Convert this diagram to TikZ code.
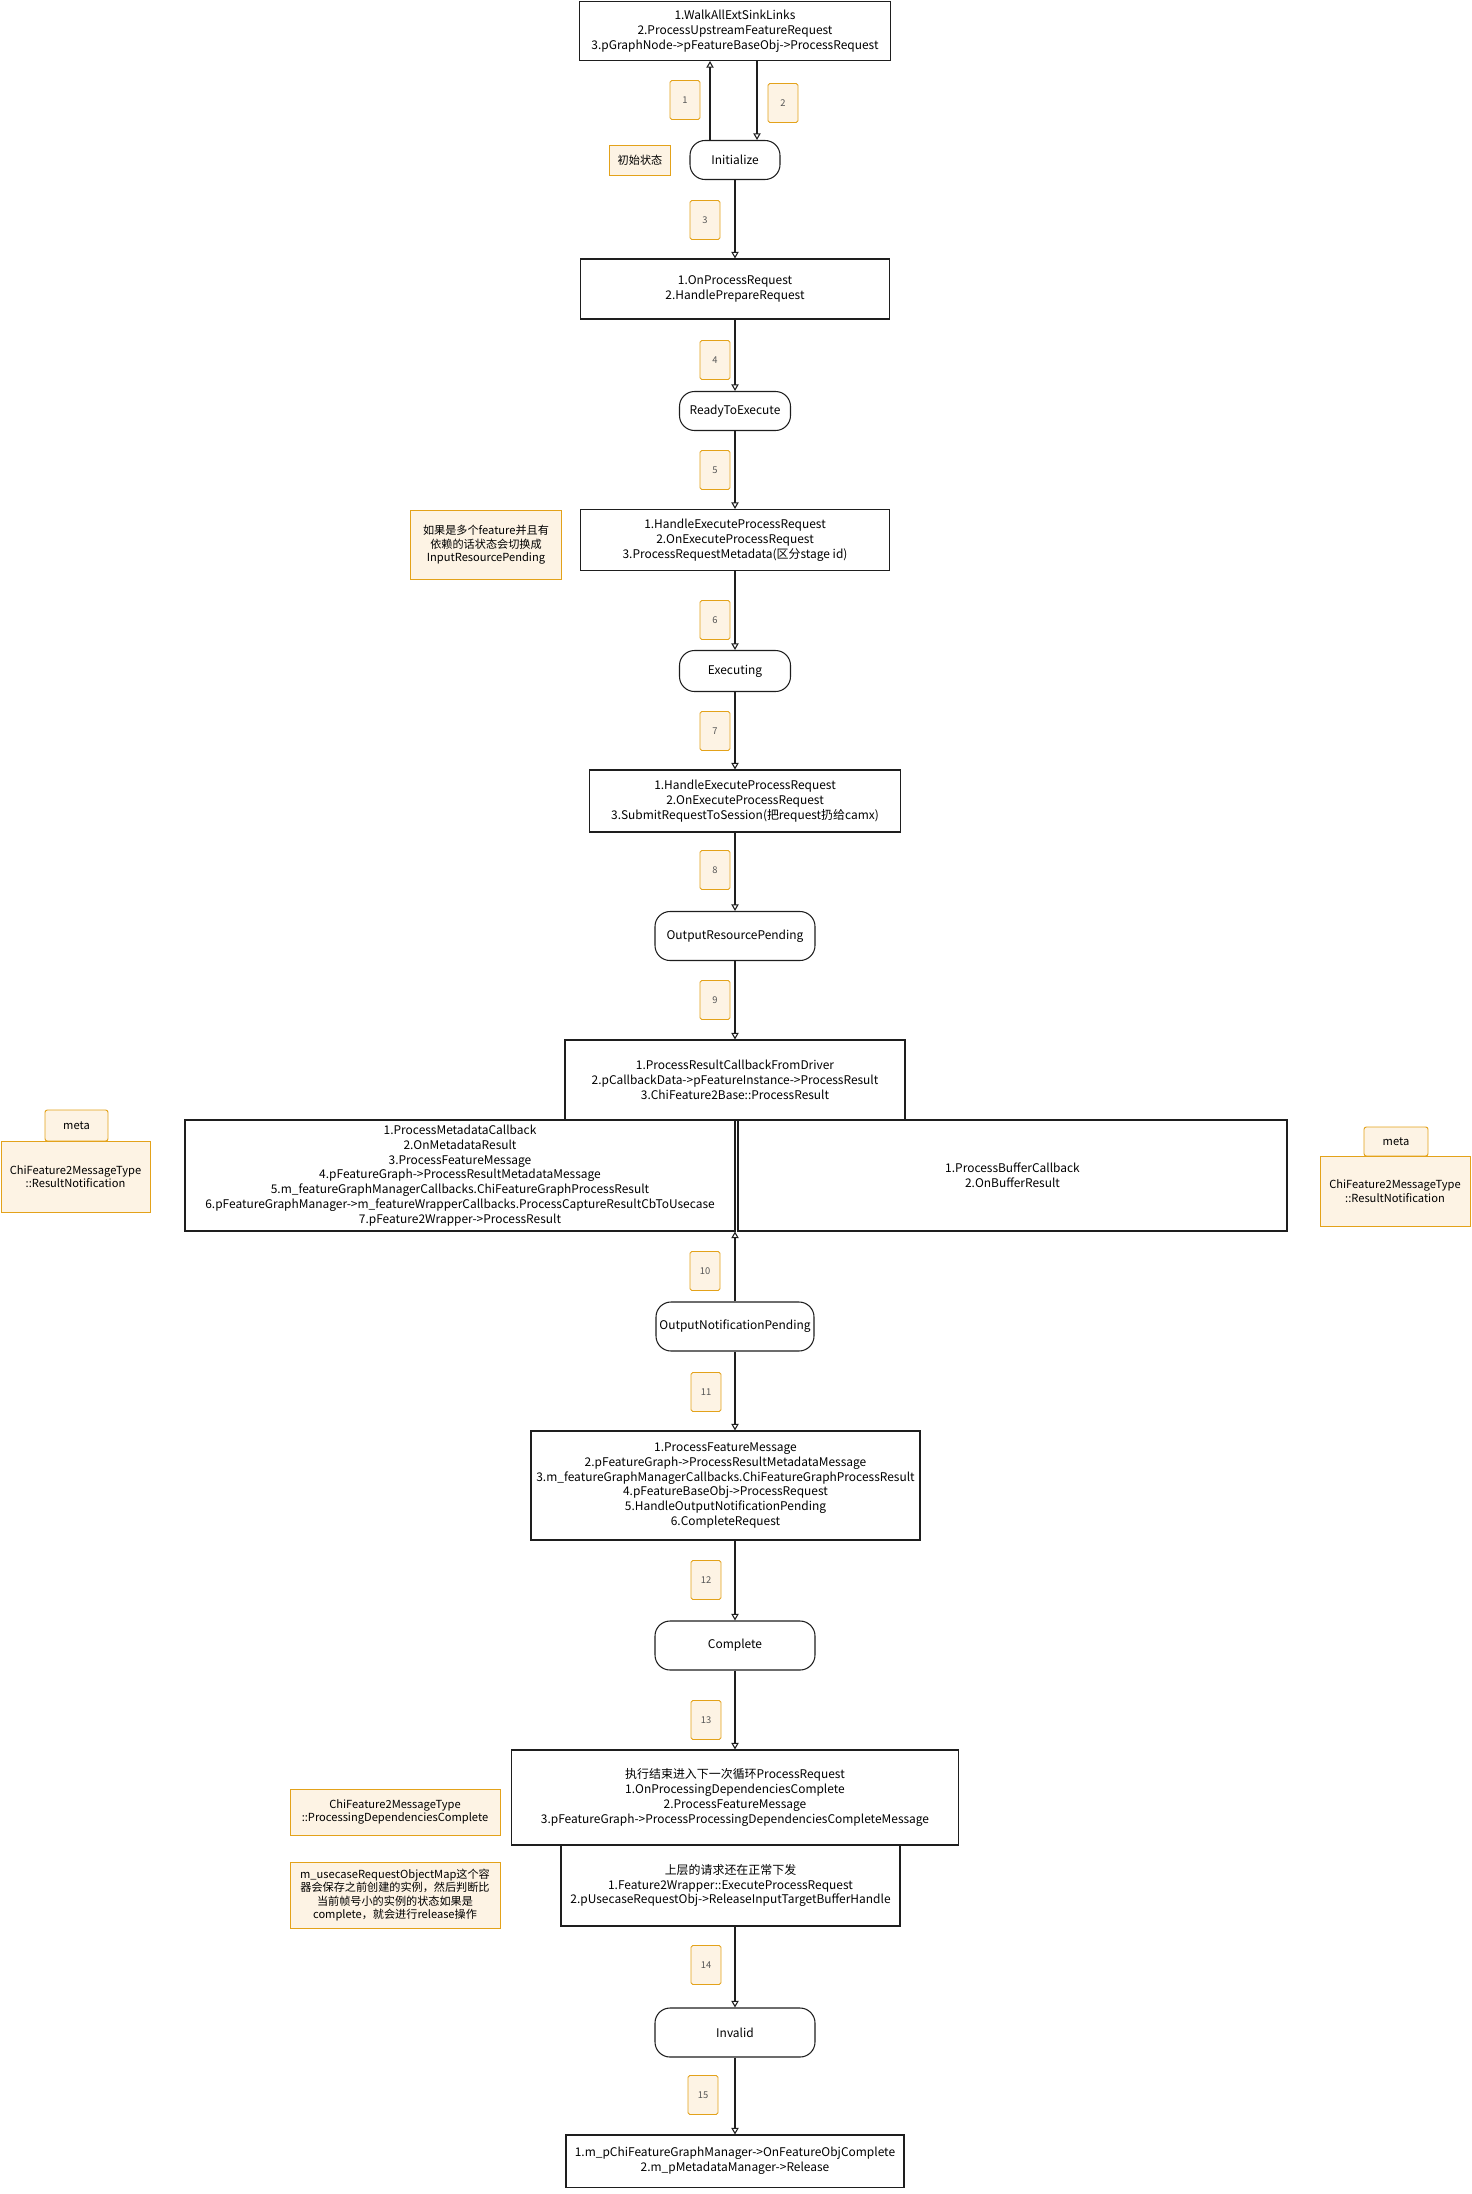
\documentclass[tikz,border=0pt]{standalone}
\usepackage{fontspec}
\setmainfont{Noto Sans CJK SC}
\usetikzlibrary{arrows.meta,calc,positioning}
\definecolor{ink}{HTML}{1E1E1E}
\definecolor{amber}{HTML}{E3A21A}
\definecolor{cream}{HTML}{FDF3E4}

\begin{document}
\begin{tikzpicture}[x=0.3mm,y=-0.3mm,>={Triangle[open,length=2mm,width=2.2mm]},
  procbox/.style={draw=ink,line width=0.9pt,fill=white,align=center,inner sep=0pt,font=\fontsize{10.2}{12.6}\selectfont},
  statebox/.style={draw=ink,line width=0.9pt,fill=white,rounded corners=4.5mm,inner sep=0pt,font=\fontsize{10.2}{12.6}\selectfont},
  numtag/.style={draw=amber,line width=0.8pt,fill=cream,rounded corners=1.5pt,minimum width=9mm,minimum height=11.7mm,inner sep=0pt,font=\fontsize{8}{9}\selectfont,text=ink!75},
  notebox/.style={draw=amber,line width=0.8pt,fill=cream,align=center,inner sep=0pt,font=\fontsize{9.5}{11.5}\selectfont},
  flow/.style={->,draw=ink,line width=0.9pt}]
\useasboundingbox (0,0) rectangle (1471,2194);

% states and steps, top to bottom
\node[procbox,minimum width=93.3mm,minimum height=17.7mm] (walk) at (735,31) {1.WalkAllExtSinkLinks\\2.ProcessUpstreamFeatureRequest\\3.pGraphNode->pFeatureBaseObj->ProcessRequest};
\node[statebox,minimum width=27mm,minimum height=11.7mm] (init) at (735,160) {Initialize};
\node[notebox,minimum width=18.3mm,minimum height=9mm] (initnote) at (640,160) {初始状态};
\node[procbox,minimum width=92.7mm,minimum height=18mm] (prep) at (735,289) {1.OnProcessRequest\\2.HandlePrepareRequest};
\node[statebox,minimum width=33.3mm,minimum height=11.7mm] (ready) at (735,411) {ReadyToExecute};
\node[procbox,minimum width=92.7mm,minimum height=18.3mm] (meta) at (735,540) {1.HandleExecuteProcessRequest\\2.OnExecuteProcessRequest\\3.ProcessRequestMetadata(区分stage id)};
\node[notebox,minimum width=45.3mm,minimum height=20.7mm] (depnote) at (486,545) {如果是多个feature并且有\\依赖的话状态会切换成\\InputResourcePending};
\node[statebox,minimum width=33.3mm,minimum height=12.3mm] (exec) at (735,671) {Executing};
\node[procbox,minimum width=93.3mm,minimum height=18.6mm] (submit) at (745,801) {1.HandleExecuteProcessRequest\\2.OnExecuteProcessRequest\\3.SubmitRequestToSession(把request扔给camx)};
\node[statebox,minimum width=48mm,minimum height=14.7mm] (orp) at (735,936) {OutputResourcePending};
\node[procbox,minimum width=102mm,minimum height=24mm] (drvcb) at (735,1080) {1.ProcessResultCallbackFromDriver\\2.pCallbackData->pFeatureInstance->ProcessResult\\3.ChiFeature2Base::ProcessResult};
\node[procbox,minimum width=165mm,minimum height=33.3mm] (metacb) at (460,1175.5) {1.ProcessMetadataCallback\\2.OnMetadataResult\\3.ProcessFeatureMessage\\4.pFeatureGraph->ProcessResultMetadataMessage\\5.m\_featureGraphManagerCallbacks.ChiFeatureGraphProcessResult\\6.pFeatureGraphManager->m\_featureWrapperCallbacks.ProcessCaptureResultCbToUsecase\\7.pFeature2Wrapper->ProcessResult};
\node[procbox,minimum width=164.7mm,minimum height=33.3mm] (bufcb) at (1012.5,1175.5) {1.ProcessBufferCallback\\2.OnBufferResult};
\node[notebox,rounded corners=2pt,minimum width=18.9mm,minimum height=9.3mm] (metatagl) at (76.5,1125.5) {meta};
\node[notebox,minimum width=44.7mm,minimum height=21.3mm] (resnotel) at (75.5,1176.5) {ChiFeature2MessageType\\::ResultNotification};
\node[notebox,rounded corners=2pt,minimum width=19.2mm,minimum height=8.7mm] (metatagr) at (1396,1141.5) {meta};
\node[notebox,minimum width=45mm,minimum height=21mm] (resnoter) at (1395,1191) {ChiFeature2MessageType\\::ResultNotification};
\node[statebox,minimum width=47.4mm,minimum height=14.7mm] (onp) at (735,1326.5) {OutputNotificationPending};
\node[procbox,minimum width=116.7mm,minimum height=32.7mm] (notify) at (725.5,1485.5) {1.ProcessFeatureMessage\\2.pFeatureGraph->ProcessResultMetadataMessage\\3.m\_featureGraphManagerCallbacks.ChiFeatureGraphProcessResult\\4.pFeatureBaseObj->ProcessRequest\\5.HandleOutputNotificationPending\\6.CompleteRequest};
\node[statebox,minimum width=48mm,minimum height=14.7mm] (done) at (735,1645.5) {Complete};
\node[procbox,minimum width=134.1mm,minimum height=28.5mm] (deps) at (735,1797.5) {执行结束进入下一次循环ProcessRequest\\1.OnProcessingDependenciesComplete\\2.ProcessFeatureMessage\\3.pFeatureGraph->ProcessProcessingDependenciesCompleteMessage};
\node[procbox,minimum width=101.7mm,minimum height=24.3mm] (upper) at (730.5,1885.5) {上层的请求还在正常下发\\1.Feature2Wrapper::ExecuteProcessRequest\\2.pUsecaseRequestObj->ReleaseInputTargetBufferHandle};
\node[notebox,minimum width=63mm,minimum height=13.8mm] (depsnote) at (395,1812) {ChiFeature2MessageType\\::ProcessingDependenciesComplete};
\node[notebox,minimum width=63mm,minimum height=19.8mm] (mapnote) at (395,1895) {m\_usecaseRequestObjectMap这个容\\器会保存之前创建的实例，然后判断比\\当前帧号小的实例的状态如果是\\complete，就会进行release操作};
\node[statebox,minimum width=48mm,minimum height=14.7mm] (invalid) at (735,2032.5) {Invalid};
\node[procbox,minimum width=101.4mm,minimum height=15.6mm] (release) at (735,2161) {1.m\_pChiFeatureGraphManager->OnFeatureObjComplete\\2.m\_pMetadataManager->Release};

% step numbers
\node[numtag] (n1) at (685,100) {1};
\node[numtag] (n2) at (783,103) {2};
\node[numtag] (n3) at (705,220) {3};
\node[numtag] (n4) at (715,360) {4};
\node[numtag] (n5) at (715,470) {5};
\node[numtag] (n6) at (715,620) {6};
\node[numtag] (n7) at (715,731) {7};
\node[numtag] (n8) at (715,870) {8};
\node[numtag] (n9) at (715,1000) {9};
\node[numtag] (n10) at (705,1271) {10};
\node[numtag] (n11) at (706,1392) {11};
\node[numtag] (n12) at (706,1580) {12};
\node[numtag] (n13) at (706,1720) {13};
\node[numtag] (n14) at (706,1965) {14};
\node[numtag] (n15) at (703,2095) {15};

% connectors
\draw[flow] ([xshift=-7.5mm]init.north) -- ([xshift=-7.5mm]init.north |- walk.south);
\draw[flow] ([xshift=6.6mm]walk.south) -- ([xshift=6.6mm]walk.south |- init.north);
\draw[flow] (init) -- (prep);
\draw[flow] (prep) -- (ready);
\draw[flow] (ready) -- (meta);
\draw[flow] (meta) -- (exec);
\draw[flow] (exec.south) -- (exec.south |- submit.north);
\draw[flow] (exec.south |- submit.south) -- (orp.north);
\draw[flow] (orp) -- (drvcb);
\draw[flow] (onp.north) -- (onp.north |- bufcb.south);
\draw[flow] (onp.south) -- (onp.south |- notify.north);
\draw[flow] (onp.south |- notify.south) -- (done.north);
\draw[flow] (done) -- (deps);
\draw[flow] (done.south |- upper.south) -- (invalid.north);
\draw[flow] (invalid) -- (release);
\end{tikzpicture}
\end{document}
